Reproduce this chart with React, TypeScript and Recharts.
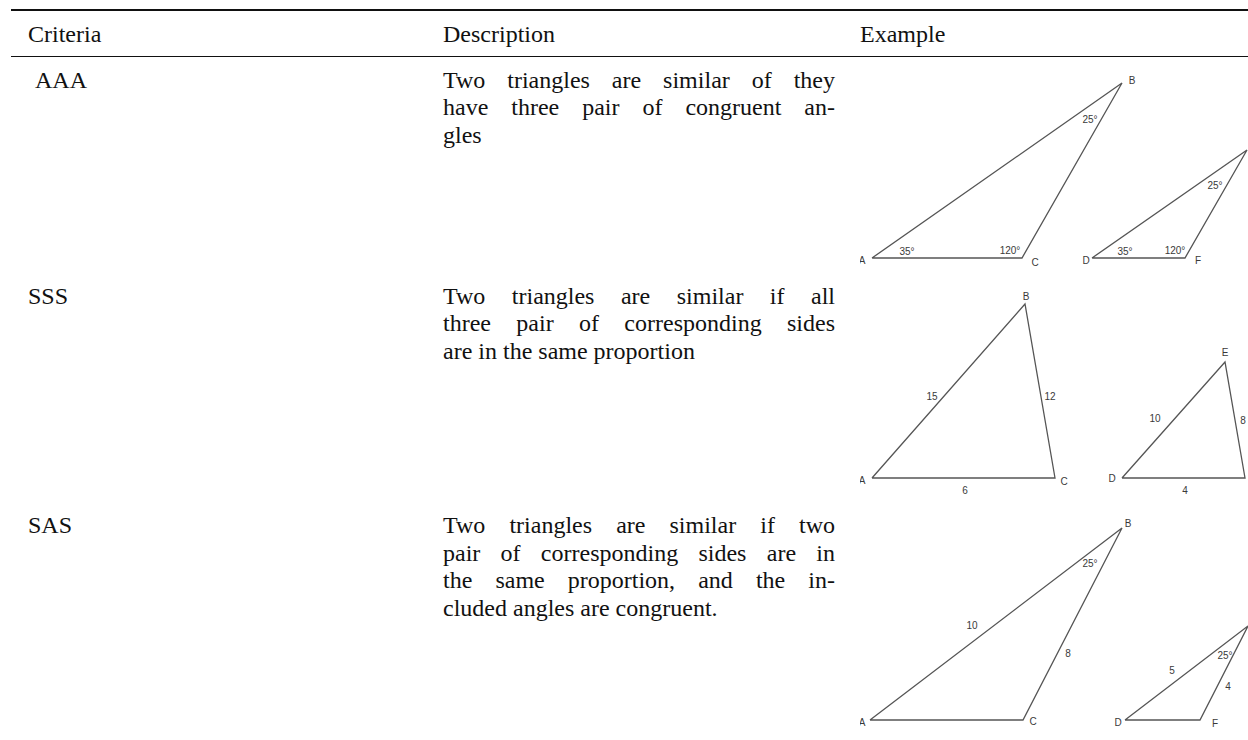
import React from 'react';
import { ComposedChart, Line, Scatter, XAxis, YAxis } from 'recharts';

// ---- table text ----
const headers = ['Criteria', 'Description', 'Example'];
const criteria = ['AAA', 'SSS', 'SAS'];
const descriptions = [
    ['Two triangles are similar of they', 'have three pair of congruent an-', 'gles'],
    ['Two triangles are similar if all', 'three pair of corresponding sides', 'are in the same proportion'],
    [
        'Two triangles are similar if two',
        'pair of corresponding sides are in',
        'the same proportion, and the in-',
        'cluded angles are congruent.',
    ],
];

// ---- triangle vertices (base line at y = 0, closed paths) ----
const aaaBig = [{ x: 12, y: 0 }, { x: 262, y: 175 }, { x: 162, y: 0 }, { x: 12, y: 0 }];
const aaaSmall = [{ x: 232, y: 0 }, { x: 387, y: 108 }, { x: 325, y: 0 }, { x: 232, y: 0 }];
const sssBig = [{ x: 12, y: 0 }, { x: 165, y: 174 }, { x: 195, y: 0 }, { x: 12, y: 0 }];
const sssSmall = [{ x: 262, y: 0 }, { x: 365, y: 116 }, { x: 385, y: 0 }, { x: 262, y: 0 }];
const sasBig = [{ x: 10, y: 0 }, { x: 262, y: 192 }, { x: 163, y: 0 }, { x: 10, y: 0 }];
const sasSmall = [{ x: 265, y: 0 }, { x: 388, y: 94 }, { x: 340, y: 0 }, { x: 265, y: 0 }];

// ---- labels on the figures (only the ones inside the frame) ----
const aaaLabels = [
    { x: 2, y: -2, text: 'A' }, { x: 272, y: 178, text: 'B' }, { x: 175, y: -4, text: 'C' },
    { x: 226, y: -2, text: 'D' }, { x: 338, y: -2, text: 'F' },
    { x: 47, y: 7, text: '35°' }, { x: 150, y: 8, text: '120°' }, { x: 230, y: 139, text: '25°' },
    { x: 265, y: 7, text: '35°' }, { x: 315, y: 8, text: '120°' }, { x: 355, y: 73, text: '25°' },
];
const sssLabels = [
    { x: 2, y: -2, text: 'A' }, { x: 166, y: 182, text: 'B' }, { x: 204, y: -3, text: 'C' },
    { x: 252, y: 0, text: 'D' }, { x: 365, y: 126, text: 'E' },
    { x: 72, y: 82, text: '15' }, { x: 190, y: 82, text: '12' }, { x: 105, y: -12, text: '6' },
    { x: 295, y: 60, text: '10' }, { x: 383, y: 58, text: '8' }, { x: 325, y: -12, text: '4' },
];
const sasLabels = [
    { x: 2, y: -2, text: 'A' }, { x: 268, y: 197, text: 'B' }, { x: 173, y: -1, text: 'C' },
    { x: 258, y: -2, text: 'D' }, { x: 355, y: -3, text: 'F' },
    { x: 112, y: 95, text: '10' }, { x: 208, y: 67, text: '8' }, { x: 230, y: 157, text: '25°' },
    { x: 312, y: 50, text: '5' }, { x: 365, y: 65, text: '25°' }, { x: 368, y: 34, text: '4' },
];

const exampleRows = [
    { top: 70, height: 200, domain: [-12, 188], triangles: [aaaBig, aaaSmall], labels: aaaLabels },
    { top: 290, height: 210, domain: [-22, 188], triangles: [sssBig, sssSmall], labels: sssLabels },
    { top: 510, height: 230, domain: [-20, 210], triangles: [sasBig, sasSmall], labels: sasLabels },
];

const textTops = [66.5, 282.5, 512];
const lineHeight = 27.5;
const serif = '"Liberation Serif", "Times New Roman", serif';

const LabelText = (props: any) => {
    const { cx, cy, payload } = props;
    return (
        <text
            x={cx}
            y={cy}
            textAnchor="middle"
            dominantBaseline="central"
            fontFamily="'Liberation Sans', Arial, sans-serif"
            fontSize={10}
            style={{ fill: '#3a3a3a' }}
        >
            {payload.text}
        </text>
    );
};

const ExampleChart = (props: any) => {
    const { height, domain, triangles, labels } = props;
    return (
        <ComposedChart width={420} height={height} margin={{ top: 0, right: 0, bottom: 0, left: 0 }}>
            <XAxis type="number" dataKey="x" domain={[0, 420]} hide allowDataOverflow />
            <YAxis type="number" dataKey="y" domain={domain} hide allowDataOverflow />
            {triangles.map((tri: any, i: number) => (
                <Line
                    key={i}
                    data={tri}
                    dataKey="y"
                    type="linear"
                    stroke="#555"
                    strokeWidth={1.3}
                    dot={false}
                    activeDot={false}
                    isAnimationActive={false}
                />
            ))}
            <Scatter data={labels} dataKey="y" shape={LabelText} isAnimationActive={false} />
        </ComposedChart>
    );
};

const App = () => {
    return (
        <div
            style={{
                position: 'fixed',
                left: 0,
                top: 0,
                width: 1248,
                height: 740,
                overflow: 'hidden',
                background: '#fff',
                fontFamily: serif,
                fontSize: 24,
                lineHeight: `${lineHeight}px`,
                color: '#111',
            }}
        >
            {/* rules */}
            <div style={{ position: 'absolute', left: 11, top: 9, width: 1250, height: 2, background: '#111' }} />
            <div style={{ position: 'absolute', left: 11, top: 55.5, width: 1250, height: 1, background: '#111' }} />

            {/* header */}
            {headers.map((h, i) => (
                <div key={h} style={{ position: 'absolute', top: 20.5, left: [28, 443, 860][i] }}>
                    {h}
                </div>
            ))}

            {/* criteria column */}
            {criteria.map((c, i) => (
                <div key={c} style={{ position: 'absolute', top: textTops[i], left: i === 0 ? 35 : 28 }}>
                    {c}
                </div>
            ))}

            {/* descriptions, justified line by line */}
            {descriptions.map((lines, i) => (
                <div key={i} style={{ position: 'absolute', top: textTops[i], left: 443, width: 392 }}>
                    {lines.map((line, j) => (
                        <div
                            key={j}
                            style={{
                                textAlign: 'justify',
                                textAlignLast: j < lines.length - 1 ? 'justify' : 'left',
                                whiteSpace: 'nowrap',
                            }}
                        >
                            {line}
                        </div>
                    ))}
                </div>
            ))}

            {/* example figures */}
            {exampleRows.map((row, i) => (
                <div key={i} style={{ position: 'absolute', top: row.top, left: 860 }}>
                    <ExampleChart {...row} />
                </div>
            ))}
        </div>
    );
};

export default App;
